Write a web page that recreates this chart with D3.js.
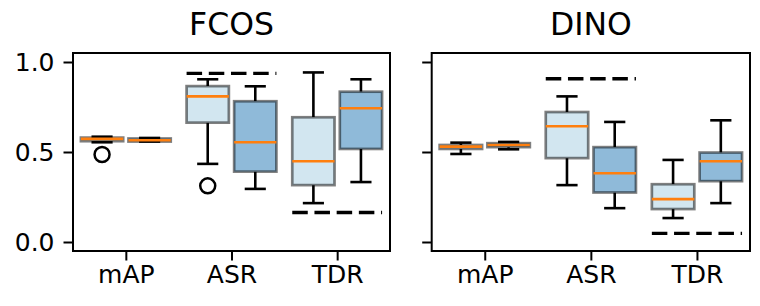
<!DOCTYPE html>
<html>
<head>
<meta charset="utf-8">
<script src="https://cdn.jsdelivr.net/npm/d3@7"></script>
<style>
  body { margin: 0; background: #fff; }
  text { font-family: "DejaVu Sans", sans-serif; fill: #000; }
</style>
</head>
<body>
<script>
// categories and panels
var models = ["FCOS", "DINO"];
var metrics = ["mAP", "ASR", "TDR"];
var yTicks = [0.0, 0.5, 1.0];

// box stats per model, per metric: [whiskerLo, q1, median, q3, whiskerHi]
// "light" = first box of each pair, "dark" = second
var fcosLight = [[0.554, 0.560, 0.573, 0.580, 0.585], [0.434, 0.663, 0.809, 0.866, 0.904], [0.216, 0.316, 0.449, 0.693, 0.942]];
var fcosDark  = [[0.558, 0.558, 0.565, 0.575, 0.578], [0.295, 0.391, 0.554, 0.782, 0.865], [0.333, 0.517, 0.743, 0.835, 0.904]];
var dinoLight = [[0.489, 0.517, 0.530, 0.539, 0.552], [0.316, 0.466, 0.643, 0.722, 0.809], [0.133, 0.183, 0.238, 0.321, 0.456]];
var dinoDark  = [[0.515, 0.527, 0.539, 0.549, 0.556], [0.188, 0.275, 0.382, 0.527, 0.667], [0.216, 0.338, 0.449, 0.497, 0.676]];

// outliers: [metric index, which box (0 light / 1 dark), value]
var fcosOutliers = [[0, 0, 0.486], [1, 0, 0.312]];
var dinoOutliers = [];

// dashed reference lines: [metric index, value]
var fcosRef = [[1, 0.937], [2, 0.164]];
var dinoRef = [[1, 0.907], [2, 0.048]];

var stats = { FCOS: [fcosLight, fcosDark], DINO: [dinoLight, dinoDark] };
var outliers = { FCOS: fcosOutliers, DINO: dinoOutliers };
var refs = { FCOS: fcosRef, DINO: dinoRef };

var fills = ["#d2e6f0", "#8fbad9"];

var W = 760, H = 306;
var plotTop = 53, plotBottom = 251;
var panelX = [[73, 390], [431.7, 750]];

var svg = d3.select("body").append("svg")
    .attr("width", W)
    .attr("height", H);

var y = d3.scaleLinear().domain([-0.05, 1.05]).range([plotBottom, plotTop]);

models.forEach(function(m, pi) {
    var x = d3.scaleLinear().domain([0.5, 3.5]).range(panelX[pi]);
    var unit = x(1) - x(0);
    var g = svg.append("g");

    // boxes
    [0, 1].forEach(function(k) {
        var off = k === 0 ? -0.225 : 0.225;
        stats[m][k].forEach(function(s, i) {
            var cx = x(i + 1 + off);
            var hw = 0.2 * unit;
            var cw = 0.1 * unit;
            // whiskers
            g.append("line").attr("x1", cx).attr("x2", cx).attr("y1", y(s[0])).attr("y2", y(s[1]))
                .attr("stroke", "#000").attr("stroke-width", 2.6);
            g.append("line").attr("x1", cx).attr("x2", cx).attr("y1", y(s[3])).attr("y2", y(s[4]))
                .attr("stroke", "#000").attr("stroke-width", 2.6);
            // box
            g.append("rect")
                .attr("x", cx - hw).attr("width", 2 * hw)
                .attr("y", y(s[3])).attr("height", Math.max(0.5, y(s[1]) - y(s[3])))
                .attr("fill", fills[k])
                .attr("stroke", "#000").attr("stroke-opacity", 0.5)
                .attr("stroke-width", 2.7);
            // caps
            [s[0], s[4]].forEach(function(v) {
                g.append("line").attr("x1", cx - cw).attr("x2", cx + cw).attr("y1", y(v)).attr("y2", y(v))
                    .attr("stroke", "#000").attr("stroke-width", 2.6);
            });
            // median
            g.append("line").attr("x1", cx - hw).attr("x2", cx + hw).attr("y1", y(s[2])).attr("y2", y(s[2]))
                .attr("stroke", "#ff7f0e").attr("stroke-width", 2.6);
        });
    });

    // fliers
    outliers[m].forEach(function(o) {
        var off = o[1] === 0 ? -0.225 : 0.225;
        g.append("circle").attr("cx", x(o[0] + 1 + off)).attr("cy", y(o[2])).attr("r", 7.5)
            .attr("fill", "none").attr("stroke", "#000").attr("stroke-width", 2.5);
    });

    // dashed lines
    refs[m].forEach(function(r) {
        g.append("line")
            .attr("x1", x(r[0] + 1 - 0.425)).attr("x2", x(r[0] + 1 + 0.425))
            .attr("y1", y(r[1])).attr("y2", y(r[1]))
            .attr("stroke", "#000").attr("stroke-width", 3.3)
            .attr("stroke-dasharray", "15.5,6.7");
    });

    // axes
    var xAxis = d3.axisBottom(x).tickValues([1, 2, 3])
        .tickFormat(function(d) { return metrics[d - 1]; })
        .tickSize(9.5).tickSizeOuter(0).tickPadding(5);
    var xg = svg.append("g").attr("transform", "translate(0," + plotBottom + ")").call(xAxis);
    var yAxis = d3.axisLeft(y).tickValues(yTicks)
        .tickFormat(pi === 0 ? d3.format(".1f") : function() { return ""; })
        .tickSize(9.5).tickSizeOuter(0).tickPadding(9);
    var yg = svg.append("g").attr("transform", "translate(" + panelX[pi][0] + ",0)").call(yAxis);
    [xg, yg].forEach(function(a) {
        a.select(".domain").remove();
        a.selectAll("line").attr("stroke", "#000").attr("stroke-width", 2);
        a.selectAll("text").attr("font-size", 25).attr("font-family", "DejaVu Sans");
    });

    // frame
    svg.append("rect")
        .attr("x", panelX[pi][0]).attr("y", plotTop)
        .attr("width", panelX[pi][1] - panelX[pi][0]).attr("height", plotBottom - plotTop)
        .attr("fill", "none").attr("stroke", "#000").attr("stroke-width", 2);

    // title
    svg.append("text")
        .attr("x", (panelX[pi][0] + panelX[pi][1]) / 2).attr("y", 35)
        .attr("text-anchor", "middle").attr("font-size", 31.5)
        .text(m);
});
</script>
</body>
</html>
